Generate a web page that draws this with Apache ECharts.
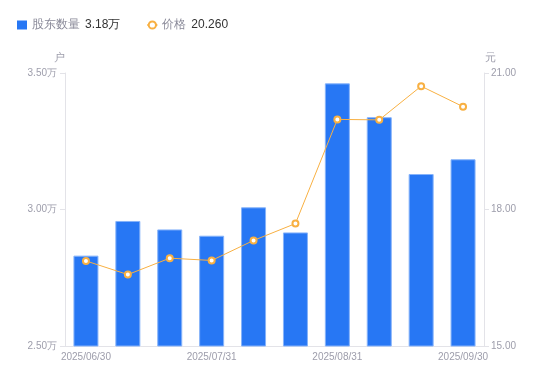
<!DOCTYPE html>
<html>
<head>
<meta charset="utf-8">
<script src="https://cdn.jsdelivr.net/npm/echarts@6/dist/echarts.min.js"></script>
<style>
html,body{margin:0;padding:0;background:#fff;}
#chart{width:550px;height:381px;}
</style>
</head>
<body>
<div id="chart"></div>
<script>
var categories = ['2025/06/30','2025/07/10','2025/07/20','2025/07/31','2025/08/10','2025/08/20','2025/08/31','2025/09/10','2025/09/20','2025/09/30'];
var holders = [28310, 29580, 29270, 29040, 30080, 29160, 34620, 33380, 31300, 31840];
var prices = [16.87, 16.57, 16.93, 16.88, 17.32, 17.69, 19.98, 19.97, 20.71, 20.26];
var legendValues = {'股东数量': '3.18万', '价格': '20.260'};

var chart = echarts.init(document.getElementById('chart'));
var axisLabelColor = '#9d9dab';
var lineColor = '#e3e3e8';
chart.setOption({
  animation: false,
  legend: {
    left: 12,
    top: 14,
    itemWidth: 10,
    itemHeight: 9,
    itemGap: 26,
    data: [
      {name: '股东数量', icon: 'rect', itemStyle: {borderWidth: 0, color: '#2777f4'}},
      {name: '价格'}
    ],
    formatter: function (name) {
      return '{n|' + name + '}{v|' + legendValues[name] + '}';
    },
    textStyle: {
      rich: {
        n: {color: '#8a8a99', fontSize: 12},
        v: {color: '#333', fontSize: 12, padding: [0, 0, 0, 5]}
      }
    }
  },
  grid: {left: 65, right: 66, top: 73, bottom: 35},
  xAxis: {
    type: 'category',
    data: categories,
    axisLine: {lineStyle: {color: lineColor}},
    axisTick: {show: false},
    axisLabel: {color: axisLabelColor, fontSize: 10, interval: 2, margin: 6}
  },
  yAxis: [{
    type: 'value',
    name: '户',
    min: 25000, max: 35000, interval: 5000,
    nameGap: 10,
    nameTextStyle: {color: axisLabelColor, fontSize: 11, align: 'center', padding: [0, 12, 0, 0]},
    axisLine: {show: true, lineStyle: {color: lineColor}},
    axisTick: {show: true, length: 5, lineStyle: {color: lineColor}},
    splitLine: {show: false},
    axisLabel: {color: axisLabelColor, fontSize: 10, margin: 8,
      formatter: function (v) { return (v / 10000).toFixed(2) + '万'; }}
  }, {
    type: 'value',
    name: '元',
    min: 15, max: 21, interval: 3,
    nameGap: 10,
    nameTextStyle: {color: axisLabelColor, fontSize: 11, align: 'center', padding: [0, 0, 0, 12]},
    axisLine: {show: true, lineStyle: {color: lineColor}},
    axisTick: {show: true, length: 5, lineStyle: {color: lineColor}},
    splitLine: {show: false},
    axisLabel: {color: axisLabelColor, fontSize: 10, margin: 7,
      formatter: function (v) { return v.toFixed(2); }}
  }],
  series: [{
    name: '股东数量',
    type: 'bar',
    data: holders,
    barWidth: 25,
    itemStyle: {color: '#2777f4', borderColor: '#86b3fa', borderWidth: 1}
  }, {
    name: '价格',
    type: 'line',
    yAxisIndex: 1,
    data: prices,
    symbol: 'circle',
    symbolSize: 6,
    lineStyle: {color: '#f8b042', width: 1},
    itemStyle: {color: '#fff', borderColor: '#f8b042', borderWidth: 2}
  }]
});
</script>
</body>
</html>
